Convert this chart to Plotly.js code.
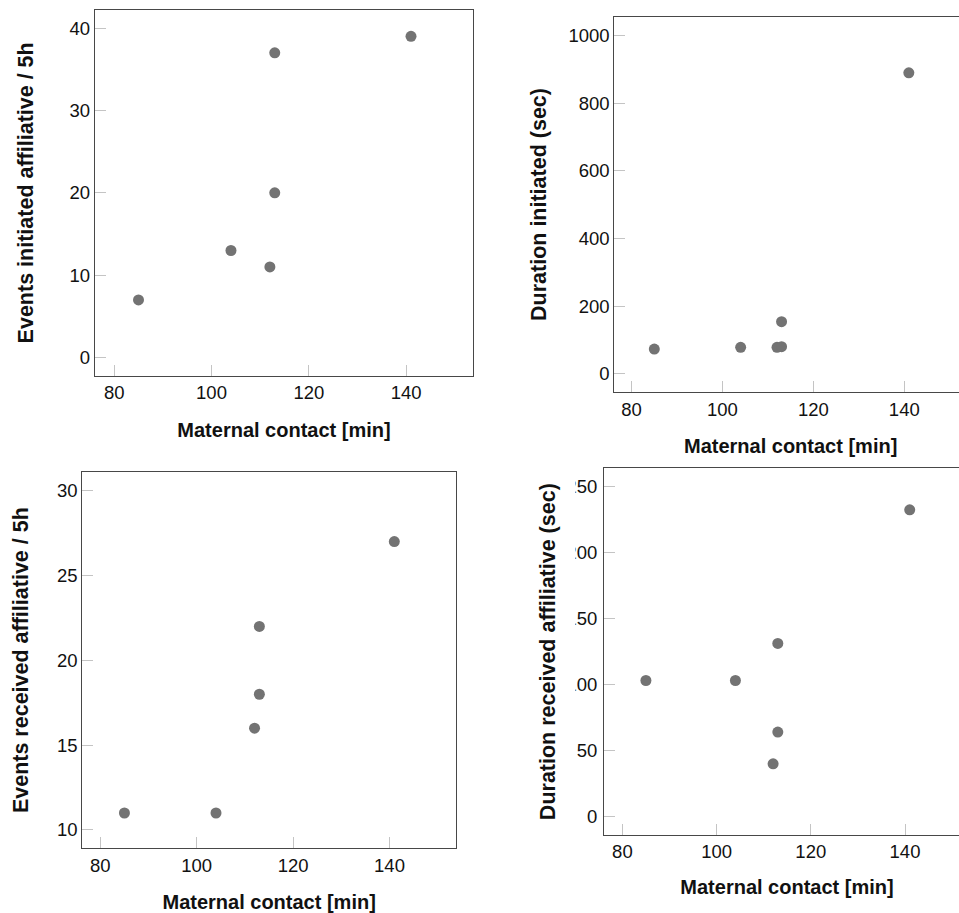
<!DOCTYPE html>
<html>
<head>
<meta charset="utf-8">
<script src="https://cdn.plot.ly/plotly-3.0.1.min.js"></script>
<style>
  html, body { margin: 0; padding: 0; background: #fff; overflow: hidden; width: 959px; height: 913px; }
  #chart { width: 980px; height: 913px; }
</style>
</head>
<body>
<div id="chart"></div>
<script>
// ---- data ----
const maternalContact = [85, 104, 112, 113, 113, 141];
const eventsInitiated = [7, 13, 11, 20, 37, 39];
const durationInitiated = [73, 78, 78, 80, 154, 890];
const eventsReceived = [11, 11, 16, 18, 22, 27];
const durationReceived = [103, 103, 40, 64, 131, 232];

const xTitle = "Maternal contact [min]";
const yTitles = [
  "Events initiated affiliative / 5h",
  "Duration initiated (sec)",
  "Events received affiliative / 5h",
  "Duration received affiliative (sec)"
];

// ---- layout geometry ----
const W = 980, H = 913;
const px = (a, b) => [a / W, b / W];
const py = (top, bottom) => [1 - bottom / H, 1 - top / H];

const markerStyle = { size: 11, color: "#737373", line: { width: 0 } };
const tickFont = { family: "Liberation Sans, Arial, sans-serif", size: 18.5, color: "#111" };
const xTitleFont = { family: "Liberation Sans, Arial, sans-serif", size: 20, color: "#111", weight: "bold" };
const yTitleFont = { family: "Liberation Sans, Arial, sans-serif", size: 21.5, color: "#111", weight: "bold" };

function xAxis(domain, range, anchor, standoff) {
  return {
    domain: domain, range: range, anchor: anchor,
    tickmode: "linear", tick0: 80, dtick: 20,
    ticks: "inside", ticklen: 11, tickcolor: "#c4c4c4", tickwidth: 1,
    showline: true, mirror: true, linecolor: "#484848", linewidth: 1,
    showgrid: false, zeroline: false,
    tickfont: tickFont,
    title: { text: xTitle, font: xTitleFont, standoff: standoff }
  };
}
function yAxis(domain, range, dtick, anchor, title, standoff, labelGap) {
  return {
    domain: domain, range: range, anchor: anchor,
    tickmode: "linear", tick0: 0, dtick: dtick,
    ticks: "inside", ticklen: 11, tickcolor: "#c4c4c4", tickwidth: 1,
    showline: true, mirror: true, linecolor: "#484848", linewidth: 1,
    showgrid: false, zeroline: false,
    tickfont: tickFont, ticklabelstandoff: labelGap,
    title: { text: title, font: yTitleFont, standoff: standoff }
  };
}

const traces = [
  { x: maternalContact, y: eventsInitiated, xaxis: "x", yaxis: "y" },
  { x: maternalContact, y: durationInitiated, xaxis: "x2", yaxis: "y2" },
  { x: maternalContact, y: eventsReceived, xaxis: "x3", yaxis: "y3" },
  { x: maternalContact, y: durationReceived, xaxis: "x4", yaxis: "y4" }
].map(t => Object.assign(t, { type: "scatter", mode: "markers", marker: markerStyle, showlegend: false, hoverinfo: "x+y" }));

const layout = {
  width: W, height: H,
  margin: { l: 0, r: 0, t: 0, b: 0, pad: 0 },
  paper_bgcolor: "#fff", plot_bgcolor: "#fff",
  showlegend: false,
  xaxis:  xAxis(px(94.7, 473.3), [76.0, 153.8], "y", 21),
  yaxis:  yAxis(py(10, 375.7), [-2.2, 42.2], 10, "x", yTitles[0], 29, 0),
  xaxis2: xAxis(px(614.3, 967), [76.2, 153.8], "y2", 20),
  yaxis2: yAxis(py(16.7, 392.3), [-55, 1056], 200, "x2", yTitles[1], 15, 0),
  xaxis3: xAxis(px(82.3, 456), [76.26, 153.8], "y3", 20),
  yaxis3: yAxis(py(472, 848.3), [8.92, 31.1], 5, "x3", yTitles[2], 22, 0),
  xaxis4: xAxis(px(604, 970), [76.1, 153.8], "y4", 18),
  yaxis4: yAxis(py(468.3, 835), [-13.8, 263.4], 50, "x4", yTitles[3], 4, 2),
  shapes: [
    // left edge of the cropped fourth panel hides most of the first digit of its tick labels
    { type: "rect", xref: "paper", yref: "paper", layer: "above",
      x0: 556 / W, x1: 575.4 / W, y0: 1 - 835 / H, y1: 1 - 468 / H,
      fillcolor: "#fff", line: { width: 0 } }
  ]
};

Plotly.newPlot("chart", traces, layout, { staticPlot: true, displayModeBar: false });
</script>
</body>
</html>
